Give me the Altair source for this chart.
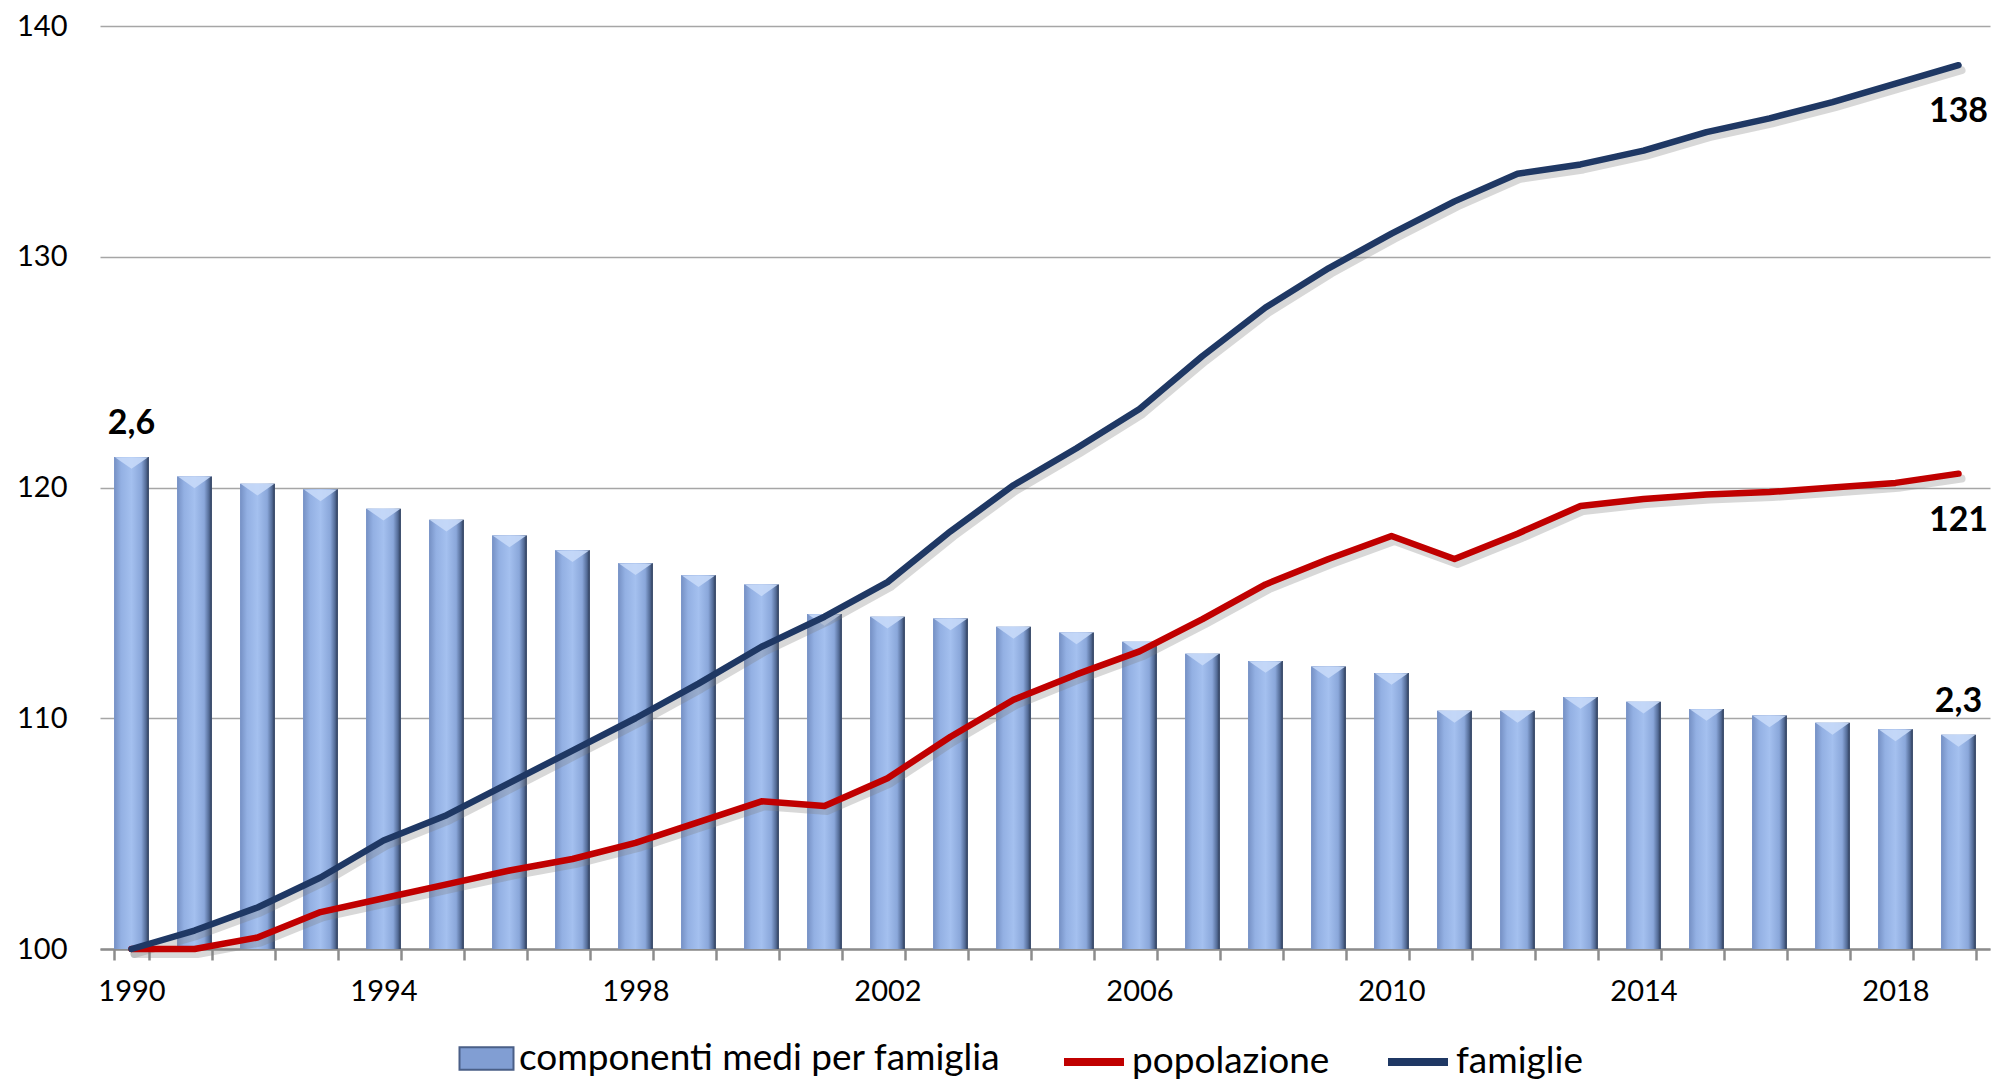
import altair as alt
import pandas as pd

years = [str(y) for y in range(1990, 2020)]

# componenti medi per famiglia (average household size)
componenti = [2.603, 2.582, 2.574, 2.568, 2.547, 2.535, 2.518, 2.502, 2.488, 2.475,
              2.465, 2.433, 2.430, 2.428, 2.419, 2.413, 2.403, 2.390, 2.382, 2.376,
              2.369, 2.328, 2.328, 2.343, 2.338, 2.330, 2.323, 2.315, 2.308, 2.302]

# popolazione index (1990 = 100)
popolazione = [100.0, 100.0, 100.5, 101.6, 102.2, 102.8, 103.4, 103.9, 104.6, 105.5,
               106.4, 106.2, 107.4, 109.2, 110.8, 111.9, 112.9, 114.3, 115.8, 116.9,
               117.9, 116.9, 118.0, 119.2, 119.5, 119.7, 119.8, 120.0, 120.2, 120.6]

# famiglie index (1990 = 100)
famiglie = [100.0, 100.8, 101.8, 103.1, 104.7, 105.8, 107.2, 108.6, 110.0, 111.5,
            113.1, 114.4, 115.9, 118.1, 120.1, 121.7, 123.4, 125.7, 127.8, 129.5,
            131.0, 132.4, 133.6, 134.0, 134.6, 135.4, 136.0, 136.7, 137.5, 138.3]

y_ticks = [100, 110, 120, 130, 140]
bar_name = "componenti medi per famiglia"
line_names = ["popolazione", "famiglie"]
line_colors = ["#C00000", "#1F3864"]

FONT = "Lato"
W, H = 1890, 923

bars_df = pd.DataFrame({"anno": years, "componenti": componenti, "serie": bar_name})
lines_df = pd.concat([
    pd.DataFrame({"anno": years, "valore": popolazione, "serie": "popolazione"}),
    pd.DataFrame({"anno": years, "valore": famiglie, "serie": "famiglie"}),
])

bar_lab_df = pd.DataFrame({
    "anno": [years[0], years[-1]],
    "componenti": [componenti[0], componenti[-1]],
    "label": [f"{componenti[0]:.1f}".replace(".", ","), f"{componenti[-1]:.1f}".replace(".", ",")],
})
line_lab_df = pd.DataFrame({
    "anno": [years[-1], years[-1]],
    "valore": [famiglie[-1], popolazione[-1]],
    "label": [f"{famiglie[-1]:.0f}", f"{popolazione[-1]:.0f}"],
})

x_enc = alt.X(
    "anno:O",
    title=None,
    sort=years,
    scale=alt.Scale(paddingInner=0.45, paddingOuter=0.225),
    axis=alt.Axis(
        labelExpr="(toNumber(datum.value) - 1990) % 4 == 0 ? datum.value : ''",
        labelAngle=0,
        labelFont=FONT,
        labelFontSize=29,
        labelColor="#000000",
        labelPadding=17,
        domainColor="#8C8C8C",
        domainWidth=2.5,
        tickColor="#8C8C8C",
        tickWidth=2.5,
        tickSize=11,
        tickBand="extent",
        grid=False,
    ),
)

bar_scale = alt.Scale(domain=[2.07, 3.07], zero=False, nice=False)

bar_grad = alt.Gradient(
    gradient="linear", x1=0, x2=1, y1=0, y2=0,
    stops=[
        alt.GradientStop(color="#7590C4", offset=0),
        alt.GradientStop(color="#93B0E3", offset=0.2),
        alt.GradientStop(color="#A4C0EF", offset=0.5),
        alt.GradientStop(color="#8AA7DA", offset=0.78),
        alt.GradientStop(color="#536B96", offset=0.92),
        alt.GradientStop(color="#2A3852", offset=1),
    ],
)

bar_base = alt.Chart(bars_df).mark_bar().encode(
    x=x_enc,
    y=alt.Y("componenti:Q", scale=bar_scale, axis=None),
    y2=alt.datum(2.07),
    fill=alt.Fill(
        "serie:N",
        scale=alt.Scale(domain=[bar_name], range=["#819ED3"]),
        legend=alt.Legend(
            title=None,
            orient="none",
            legendX=368,
            legendY=1014,
            symbolType="M-1.8,-0.75H1.8V0.75H-1.8Z",
            symbolSize=900,
            symbolStrokeColor="#4A5F87",
            symbolStrokeWidth=2,
            labelFont=FONT,
            labelFontSize=37,
            labelColor="#000000",
            labelOffset=14,
            labelLimit=900,
        ),
    ),
)

bar_top = alt.Chart(bars_df).mark_bar(fill=bar_grad).encode(
    x=x_enc,
    y=alt.Y("componenti:Q", scale=bar_scale, axis=None),
    y2=alt.datum(2.07),
)

bar_chevron = alt.Chart(bars_df).mark_point(
    shape="M-1,-0.35L1,-0.35L0,0.35Z", size=1100, filled=True,
    fill="#C6D9F8", opacity=0.9, strokeWidth=0, yOffset=6,
).encode(
    x=x_enc,
    y=alt.Y("componenti:Q", scale=bar_scale, axis=None),
)

bar_labels = alt.Chart(bar_lab_df).mark_text(
    font=FONT, fontSize=34, fontWeight="bold", color="#000000",
    baseline="bottom", dy=-16,
).encode(
    x=x_enc,
    y=alt.Y("componenti:Q", scale=bar_scale, axis=None),
    text="label:N",
)

bars_layer = alt.layer(bar_base, bar_top, bar_chevron, bar_labels)

line_scale = alt.Scale(domain=[100, 140], nice=False, zero=False)

y_axis = alt.Axis(
    values=y_ticks,
    labelFont=FONT,
    labelFontSize=29,
    labelColor="#000000",
    labelPadding=33,
    domain=False,
    ticks=False,
    grid=True,
    gridColor="#A6A6A6",
    gridWidth=1.3,
)

y_line = alt.Y("valore:Q", scale=line_scale, title=None, axis=y_axis)

line_shadow = alt.Chart(lines_df).mark_line(
    color="#7F7F7F", opacity=0.3, strokeWidth=8, xOffset=3, yOffset=5,
    strokeCap="round", strokeJoin="round",
).encode(
    x=x_enc,
    y=y_line,
    detail="serie:N",
)

lines = alt.Chart(lines_df).mark_line(
    strokeWidth=6.5, strokeCap="round", strokeJoin="round",
).encode(
    x=x_enc,
    y=y_line,
    color=alt.Color(
        "serie:N",
        scale=alt.Scale(domain=line_names, range=line_colors),
        sort=line_names,
        legend=alt.Legend(
            title=None,
            orient="none",
            legendX=960,
            legendY=1002,
            direction="horizontal",
            symbolType="stroke",
            symbolSize=3600,
            symbolStrokeWidth=8,
            labelFont=FONT,
            labelFontSize=37,
            labelColor="#000000",
            labelOffset=4,
            labelLimit=600,
            columnPadding=42,
        ),
    ),
)

line_labels = alt.Chart(line_lab_df).mark_text(
    font=FONT, fontSize=34, fontWeight="bold", color="#000000",
    baseline="top", dy=30,
).encode(
    x=x_enc,
    y=y_line,
    text="label:N",
)

lines_layer = alt.layer(line_shadow, lines, line_labels)

chart = alt.layer(bars_layer, lines_layer).resolve_scale(
    y="independent"
).properties(
    width=W,
    height=H,
    padding={"left": 8, "top": 4, "right": 4, "bottom": 0},
    background="white",
).configure_view(stroke=None)

chart.save("out.html", embed_options={"renderer": "svg", "actions": False})
